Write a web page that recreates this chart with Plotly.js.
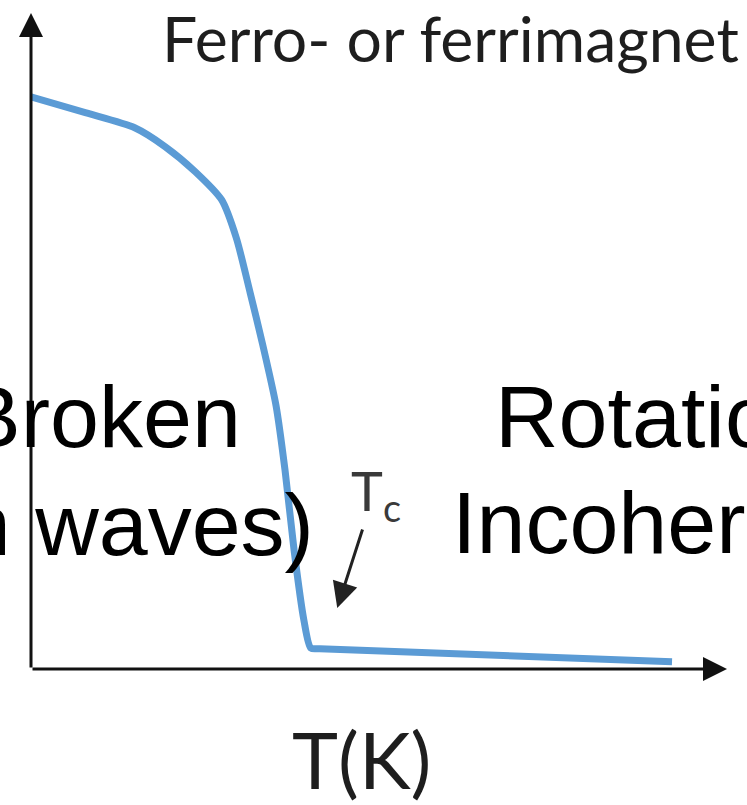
<!DOCTYPE html>
<html>
<head>
<meta charset="utf-8">
<script src="https://cdn.plot.ly/plotly-3.0.1.min.js"></script>
<style>html,body{margin:0;padding:0;background:#fff;overflow:hidden}#chart{width:747px;height:805px}</style>
</head>
<body>
<div id="chart"></div>
<script>
// Magnetization vs temperature (arbitrary units)
const temperature = [0, 7.8, 14.9, 19.3, 23.6, 27.4, 29.5, 31.5, 33.3, 35.2, 36.5, 37.8, 39.2, 40.2, 41.5, 92.1];
const magnetization = [87.2, 84.8, 82.5, 79.6, 75.8, 71.5, 65.7, 57.3, 49.4, 40.2, 30.3, 18.1, 7.5, 3.2, 3.1, 1.1];
const tcArrowTail = [47.7, 21.5];
const tcArrowTip = [44.0, 9.3];
const titleText = 'Ferro- or ferrimagnet';
const xTitle = 'T(K)';
const tcLabel = 'T<sub>c</sub>';
const leftLines = ['Broken', '(spin waves)'];
const rightLines = ['Rotational', 'Incoherent'];

// pixel helpers for layout placement (plot area: x 31..727, y 13..669)
const PX = x => (x - 31) / 696;
const PY = y => (669 - y) / 656;

const bigFont = {family: 'Liberation Sans, Arial, sans-serif', size: 88, color: '#000'};
const calFont = (s, c) => ({family: 'Lato, Carlito, sans-serif', size: s, color: c});

const trace = {
  x: temperature, y: magnetization, type: 'scatter', mode: 'lines',
  line: {color: '#5B9BD5', width: 7, shape: 'spline', smoothing: 0.7},
  hoverinfo: 'skip', showlegend: false, cliponaxis: false
};

const annotations = [
  // axes arrows
  {x: 100, y: 0, ax: 0, ay: 0, xref: 'x', yref: 'y', axref: 'x', ayref: 'y', text: '', showarrow: true,
   arrowhead: 2, arrowsize: 1.6, arrowwidth: 3, arrowcolor: '#111', standoff: 0},
  {x: 0, y: 100, ax: 0, ay: 0, xref: 'x', yref: 'y', axref: 'x', ayref: 'y', text: '', showarrow: true,
   arrowhead: 2, arrowsize: 1.6, arrowwidth: 3, arrowcolor: '#111', standoff: 0},
  // Tc arrow
  {x: tcArrowTip[0], y: tcArrowTip[1], ax: tcArrowTail[0], ay: tcArrowTail[1], xref: 'x', yref: 'y', axref: 'x', ayref: 'y',
   text: '', showarrow: true, arrowhead: 2, arrowsize: 1.7, arrowwidth: 3, arrowcolor: '#222', standoff: 0},
  {x: PX(376), y: PY(494), xref: 'paper', yref: 'paper', text: tcLabel, showarrow: false,
   xanchor: 'center', yanchor: 'middle', font: calFont(54, '#3a3a3a')},
  // title-like label
  {x: PX(160), y: PY(38), xref: 'paper', yref: 'paper', text: titleText, showarrow: false,
   xanchor: 'left', yanchor: 'middle', font: calFont(62.5, '#1e1e1e')},
  // x-axis label
  {x: PX(361), y: PY(759), xref: 'paper', yref: 'paper', text: xTitle, showarrow: false,
   xanchor: 'center', yanchor: 'middle', font: calFont(78, '#1e1e1e')},
  // big overlaid texts
  {x: PX(243), y: PY(416.5), xref: 'paper', yref: 'paper', text: leftLines[0], showarrow: false,
   xanchor: 'right', yanchor: 'middle', font: bigFont},
  {x: PX(316), y: PY(524.5), xref: 'paper', yref: 'paper', text: leftLines[1], showarrow: false,
   xanchor: 'right', yanchor: 'middle', font: bigFont},
  {x: PX(493), y: PY(416.5), xref: 'paper', yref: 'paper', text: rightLines[0], showarrow: false,
   xanchor: 'left', yanchor: 'middle', font: bigFont},
  {x: PX(450), y: PY(522.5), xref: 'paper', yref: 'paper', text: rightLines[1], showarrow: false,
   xanchor: 'left', yanchor: 'middle', font: bigFont}
];

const layout = {
  width: 747, height: 805,
  margin: {l: 31, r: 20, t: 13, b: 136, pad: 0},
  paper_bgcolor: '#fff', plot_bgcolor: '#fff',
  xaxis: {range: [0, 100], showgrid: false, zeroline: false, showline: false, showticklabels: false, ticks: '', fixedrange: true},
  yaxis: {range: [0, 100], showgrid: false, zeroline: false, showline: false, showticklabels: false, ticks: '', fixedrange: true},
  annotations: annotations,
  showlegend: false
};

Plotly.newPlot('chart', [trace], layout, {staticPlot: true, displayModeBar: false});
</script>
</body>
</html>
